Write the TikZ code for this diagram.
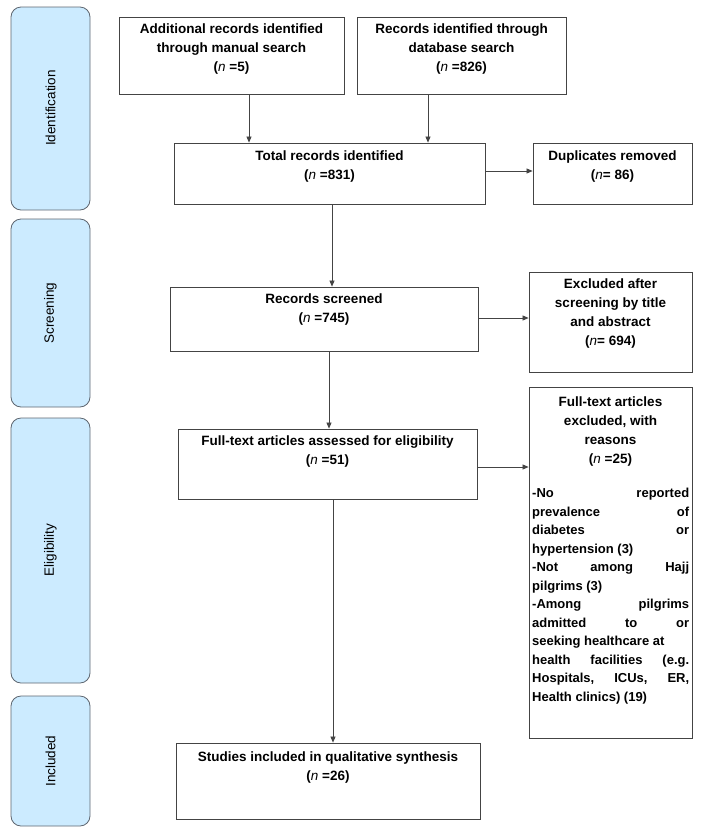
\documentclass[tikz,border=0pt]{standalone}
\usepackage{fontspec}
\setmainfont{Liberation Sans}
\usetikzlibrary{arrows.meta}
\definecolor{sidefill}{HTML}{CCEBFF}
\definecolor{sidedraw}{HTML}{5E6670}
\definecolor{boxdraw}{HTML}{444444}
\newcommand{\jl}[1]{\hbox to 157pt{#1}}
\begin{document}
\begin{tikzpicture}[x=1pt,y=-1pt,
  box/.style={draw=boxdraw,line width=0.8pt},
  side/.style={draw=sidedraw,fill=sidefill,rounded corners=10pt,line width=0.8pt},
  sidelab/.style={rotate=90,font=\fontsize{13.5}{16}\selectfont},
  txt/.style={anchor=north,align=center,font=\fontsize{13.5}{19}\selectfont\bfseries,inner sep=0pt},
  arr/.style={draw=boxdraw,line width=0.7pt,-{Triangle[length=6pt,width=5pt]}}]
\useasboundingbox (0,0) rectangle (702,836);
% side phases
\draw[side] (11,7) rectangle (90,210);
\node[sidelab] (l1) at (50.5,108) {Identification};
\draw[side] (11,219) rectangle (90,407);
\node[sidelab] (l2) at (50.5,313) {Screening};
\draw[side] (11,418) rectangle (90,683);
\node[sidelab] (l3) at (50.5,550) {Eligibility};
\draw[side] (11,696) rectangle (90,826);
\node[sidelab] (l4) at (50.5,761) {Included};
% boxes
\node[box,minimum width=225pt,minimum height=77pt] (A) at (231.5,55.5) {};
\node[txt] (At) at (231.5,24) {Additional records identified\\through manual search\\(\textit{\mdseries n} =5)};
\node[box,minimum width=209pt,minimum height=77pt] (B) at (461.5,55.5) {};
\node[txt] (Bt) at (461.5,24) {Records identified through\\database search\\(\textit{\mdseries n} =826)};
\node[box,minimum width=311pt,minimum height=61pt] (T) at (329.5,173.5) {};
\node[txt] (Tt) at (329.5,151) {Total records identified\\(\textit{\mdseries n} =831)};
\node[box,minimum width=159pt,minimum height=61pt] (D) at (612.5,173.5) {};
\node[txt] (Dt) at (612.5,151) {Duplicates removed\\(\textit{\mdseries n}= 86)};
\node[box,minimum width=308pt,minimum height=64pt] (S) at (324,319) {};
\node[txt] (St) at (324,294) {Records screened\\(\textit{\mdseries n} =745)};
\node[box,minimum width=163pt,minimum height=100pt] (E) at (610.5,322) {};
\node[txt] (Et) at (610.5,279) {Excluded after\\screening by title\\and abstract\\(\textit{\mdseries n}= 694)};
\node[box,minimum width=299pt,minimum height=70pt] (F) at (327.5,464) {};
\node[txt] (Ft) at (327.5,436) {Full-text articles assessed for eligibility\\(\textit{\mdseries n} =51)};
\node[box,minimum width=163pt,minimum height=351pt] (R) at (610.5,562.5) {};
\node[txt] (Rt) at (610.5,397) {Full-text articles\\excluded, with\\reasons\\(\textit{\mdseries n} =25)};
\node[anchor=north west,align=left,inner sep=0pt,font=\fontsize{13}{18.5}\selectfont\bfseries] (Rl) at (532,488)
 {\jl{-No\hfill reported}\\
  \jl{prevalence\hfill of}\\
  \jl{diabetes\hfill or}\\
  \jl{hypertension (3)\hfill}\\
  \jl{-Not\hfill among\hfill Hajj}\\
  \jl{pilgrims (3)\hfill}\\
  \jl{-Among\hfill pilgrims}\\
  \jl{admitted\hfill to\hfill or}\\
  \jl{seeking healthcare at\hfil}\\
  \jl{health\hfill facilities\hfill (e.g.}\\
  \jl{Hospitals,\hfill ICUs,\hfill ER,}\\
  \jl{Health clinics) (19)\hfill}};
\node[box,minimum width=304pt,minimum height=76pt] (I) at (328,781) {};
\node[txt] (It) at (328,752) {Studies included in qualitative synthesis\\(\textit{\mdseries n} =26)};
% connectors
\coordinate (ca) at (249,0);
\coordinate (cb) at (428,0);
\coordinate (c1) at (0,171);
\coordinate (ct) at (332,0);
\coordinate (c2) at (0,318);
\coordinate (cs) at (329,0);
\coordinate (c3) at (0,467);
\coordinate (cf) at (333,0);
\draw[arr] (A.south -| ca) -- (T.north -| ca);
\draw[arr] (B.south -| cb) -- (T.north -| cb);
\draw[arr] (T.east |- c1) -- (D.west |- c1);
\draw[arr] (T.south -| ct) -- (S.north -| ct);
\draw[arr] (S.east |- c2) -- (E.west |- c2);
\draw[arr] (S.south -| cs) -- (F.north -| cs);
\draw[arr] (F.east |- c3) -- (R.west |- c3);
\draw[arr] (F.south -| cf) -- (I.north -| cf);
\end{tikzpicture}
\end{document}
